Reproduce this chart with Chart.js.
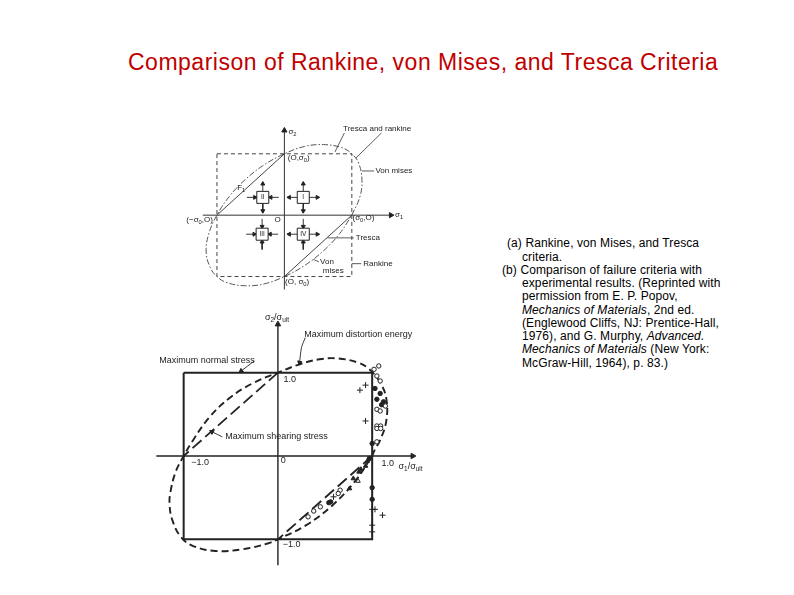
<!DOCTYPE html>
<html>
<head>
<meta charset="utf-8">
<script src="https://cdn.jsdelivr.net/npm/chart.js@4.4.1/dist/chart.umd.min.js"></script>
<style>
  body { margin: 0; background: #fff; }
  #page { position: relative; width: 794px; height: 595px; overflow: hidden;
          font-family: "Liberation Sans", Arial, sans-serif; }
  #title { position: absolute; left: 128px; top: 51px; color: #c00000; font-size: 23px;
           line-height: 23px; letter-spacing: 0.5px; white-space: nowrap; }
  canvas { position: absolute; }
  #caption div { position: absolute; white-space: nowrap; font-size: 12px; line-height: 14px;
                 letter-spacing: 0.1px; color: #000; }
</style>
</head>
<body>
<div id="page">
  <div id="title">Comparison of Rankine, von Mises, and Tresca Criteria</div>
  <canvas id="chartA" width="300" height="195" style="left:140px;top:110px"></canvas>
  <canvas id="chartB" width="300" height="275" style="left:140px;top:305px"></canvas>
  <div id="caption">
    <div style="left:507px;top:236px">(a) Rankine, von Mises, and Tresca</div>
    <div style="left:522px;top:249.5px">criteria.</div>
    <div style="left:502px;top:263px">(b) Comparison of failure criteria with</div>
    <div style="left:522px;top:276px">experimental results. (Reprinted with</div>
    <div style="left:522px;top:289px">permission from E. P. Popov,</div>
    <div style="left:522px;top:302.5px"><i>Mechanics of Materials</i>, 2nd ed.</div>
    <div style="left:522px;top:316px">(Englewood Cliffs, NJ: Prentice-Hall,</div>
    <div style="left:522px;top:329px">1976), and G. Murphy, <i>Advanced.</i></div>
    <div style="left:522px;top:342px"><i>Mechanics of Materials</i> (New York:</div>
    <div style="left:522px;top:355.5px">McGraw-Hill, 1964), p. 83.)</div>
  </div>
</div>
<script>
// stresses are in units of the yield / ultimate stress (sigma0 in a, sigma_ult in b)

// Rankine (max normal stress) square
const rankineX = [-1, 1, 1, -1, -1];
const rankineY = [1, 1, -1, -1, 1];
// Tresca (max shearing stress) diagonal edges
const trescaX = [0, -1, null, 1, 0];
const trescaY = [1, 0, null, 0, -1];

// von Mises ellipse, panel (a)
const aMisesX = [1.00, 1.12, 1.15, 1.10, 1.00, 0.85, 0.58, 0.30, 0.00, -0.30, -0.58, -0.82, -1.00,
                 -1.12, -1.16, -1.10, -1.00, -0.85, -0.58, -0.30, 0.00, 0.30, 0.58, 0.82, 1.00];
const aMisesY = [0.00, 0.30, 0.58, 0.85, 1.00, 1.10, 1.15, 1.12, 1.00, 0.82, 0.58, 0.30, 0.00,
                 -0.30, -0.60, -0.85, -1.00, -1.10, -1.15, -1.12, -1.00, -0.82, -0.58, -0.30, 0.00];
// max distortion energy ellipse, panel (b)
const bMisesX = [1.00, 1.03, 1.085, 1.15, 1.15, 1.085, 0.97, 0.85, 0.64, 0.44, 0.23, 0.00, -0.28, -0.52,
                 -0.73, -0.90, -1.00, -1.085, -1.14, -1.15, -1.12, -1.03, -0.90, -0.66, -0.38, -0.11,
                 0.00, 0.30, 0.58, 0.82, 1.00];
const bMisesY = [0.00, 0.08, 0.19, 0.42, 0.69, 0.88, 1.04, 1.12, 1.17, 1.16, 1.10, 1.00, 0.865, 0.69,
                 0.46, 0.19, 0.00, -0.19, -0.43, -0.58, -0.77, -0.97, -1.08, -1.14, -1.12, -1.05,
                 -1.00, -0.83, -0.59, -0.30, 0.00];

// axes
const aAxisX = [-1.21, 1.58, null, 0, 0];
const aAxisY = [0, 0, null, -1.21, 1.38];
const bAxisX = [-1.29, 1.43, null, 0, 0];
const bAxisY = [0, 0, null, -1.31, 1.58];

// stress elements in panel (a)
const elemLabels = ['I', 'II', 'III', 'IV'];
const elemX = [0.28, -0.32, -0.33, 0.28];
const elemY = [0.29, 0.29, -0.31, -0.31];
const elemTensionX = [true, false, false, true];
const elemTensionY = [true, true, false, false];

// experimental results, panel (b)
const openCircleX = [1.02, 1.07, 1.05, 1.085, 1.05, 1.085, 1.14, 1.05, 1.09, 1.05, 1.09, 1.05, 0.66, 0.64, 0.45, 0.38, 0.32];
const openCircleY = [1.04, 1.08, 0.96, 0.90, 0.56, 0.54, 0.60, 0.36, 0.36, 0.33, 0.33, 0.17, -0.41, -0.45, -0.61, -0.66, -0.73];
const dotX = [1.03, 1.085, 1.12, 1.10, 1.05, 1.00, 0.54, 0.56, 1.00, 1.00, 0.97];
const dotY = [0.81, 0.75, 0.65, 0.615, 0.68, 0.15, -0.56, -0.55, -0.38, -0.52, -0.03];
const triX = [0.95, 0.93, 0.88, 0.86, 0.80, 0.76];
const triY = [-0.06, -0.12, -0.16, -0.19, -0.27, -0.39];
const openTriX = [0.85];
const openTriY = [-0.30];
const plusX = [0.87, 0.93, 0.93, 1.00, 1.03, 1.11, 1.00, 1.00, 0.59];
const plusY = [0.79, 0.85, 0.42, -0.64, -0.64, -0.71, -0.83, -0.91, -0.49];

// leader lines and their arrow tips
const aLeadX = [0.89, 0.75, null, 1.44, 1.06, null, 1.33, 1.15, null, 0.64, 1.03, null, 1.00, 1.14, null, 0.43, 0.51];
const aLeadY = [1.34, 1.03, null, 1.34, 0.93, null, 0.72, 0.72, null, -0.37, -0.37, null, -0.79, -0.79, null, -0.72, -0.76];
const bLeadX = [-0.25, -0.39, null, 0.29, 0.25, 0.23, null, -0.59, -0.70];
const bLeadY = [1.14, 1.02, null, 1.42, 1.30, 1.12, null, 0.23, 0.29];
const bTipX = [-0.39, 0.23, -0.70];
const bTipY = [1.02, 1.12, 0.29];
const bTipRot = [234, 194, 301];

const FONT = '"Liberation Sans", Arial, sans-serif';
const INK = '#222';

function pts(xs, ys) {
  return xs.map((x, i) => ({ x: x, y: ys[i] }));
}

// texts placed at data coordinates; parts: [text, 's' subscript | 'i' italic]
function textLayer(items, size) {
  return {
    id: 'textLayer',
    afterDatasetsDraw(chart) {
      const ctx = chart.ctx;
      const sx = chart.scales.x, sy = chart.scales.y;
      ctx.save();
      ctx.fillStyle = INK;
      ctx.textBaseline = 'middle';
      items.forEach(it => {
        const parts = Array.isArray(it.t) ? it.t : [[it.t]];
        const fs = it.size || size;
        const fontOf = k => (k === 'i' ? 'italic ' : '') + (k === 's' ? fs * 0.72 : fs) + 'px ' + FONT;
        let w = 0;
        parts.forEach(p => { ctx.font = fontOf(p[1]); w += ctx.measureText(p[0]).width; });
        let px = sx.getPixelForValue(it.x), py = sy.getPixelForValue(it.y);
        if (it.align === 'center') px -= w / 2;
        else if (it.align === 'right') px -= w;
        ctx.save();
        ctx.translate(px, py);
        if (it.rot) ctx.rotate(it.rot * Math.PI / 180);
        let cx = 0;
        parts.forEach(p => {
          ctx.font = fontOf(p[1]);
          ctx.fillText(p[0], cx, p[1] === 's' ? fs * 0.32 : 0);
          cx += ctx.measureText(p[0]).width;
        });
        ctx.restore();
      });
      ctx.restore();
    }
  };
}

function lineSet(xs, ys, color, width, dash, tension) {
  return {
    data: pts(xs, ys), borderColor: color, borderWidth: width, borderDash: dash || [],
    pointRadius: 0, tension: tension || 0, fill: false
  };
}

function markerSet(xs, ys, style, radius, fillColor, rot) {
  return {
    data: pts(xs, ys), showLine: false, pointStyle: style, pointRadius: radius,
    pointBackgroundColor: fillColor, pointBorderColor: INK, pointBorderWidth: 1,
    pointRotation: rot || 0
  };
}

function baseOptions(frame) {
  return {
    responsive: false, animation: false, devicePixelRatio: 1, events: [],
    layout: { padding: 0 },
    plugins: { legend: { display: false }, tooltip: { enabled: false } },
    scales: {
      x: { type: 'linear', display: false,
           min: (0 - frame.cx) / frame.ux, max: (frame.w - frame.cx) / frame.ux },
      y: { type: 'linear', display: false,
           min: (frame.cy - frame.h) / frame.uy, max: frame.cy / frame.uy }
    }
  };
}

// ---------- panel (a) ----------
const frameA = { w: 300, h: 195, cx: 144, cy: 106, ux: 72, uy: 68 };
const dx = 1 / frameA.ux, dy = 1 / frameA.uy;
const shaftX = [], shaftY = [], headX = [], headY = [], headRot = [];
elemX.forEach((cx, i) => {
  const cy = elemY[i];
  const inn = 6.5, out = 17;
  [1, -1].forEach(s => {
    shaftX.push(cx + s * inn * dx, cx + s * out * dx, null);
    shaftY.push(cy, cy, null);
    const tens = elemTensionX[i];
    headX.push(cx + s * (tens ? out - 2 : inn + 2) * dx);
    headY.push(cy);
    headRot.push((s > 0) === tens ? 90 : 270);
  });
  [1, -1].forEach(s => {
    shaftX.push(cx, cx, null);
    shaftY.push(cy + s * inn * dy, cy + s * out * dy, null);
    const tens = elemTensionY[i];
    headX.push(cx);
    headY.push(cy + s * (tens ? out - 2 : inn + 2) * dy);
    headRot.push((s > 0) === tens ? 0 : 180);
  });
});

const sig0 = (pre, post) => [[pre], ['0', 's'], [post]];
const textsA = [
  { x: 0.06, y: 1.36, t: [['σ'], ['2', 's']] },
  { x: 1.64, y: 0.0, t: [['σ'], ['1', 's']] },
  { x: -0.10, y: -0.08, t: 'O', align: 'center' },
  { x: 0.05, y: 0.94, t: sig0('(O,σ', ')') },
  { x: -1.06, y: -0.08, t: sig0('(−σ', ',O)'), align: 'right' },
  { x: 1.01, y: -0.05, t: sig0('(σ', ',O)') },
  { x: 0.01, y: -1.08, t: sig0('(O, σ', ')') },
  { x: 0.87, y: 1.41, t: 'Tresca and rankine' },
  { x: 1.35, y: 0.72, t: 'Von mises' },
  { x: 1.06, y: -0.37, t: 'Tresca' },
  { x: 1.17, y: -0.79, t: 'Rankine' },
  { x: 0.53, y: -0.76, t: 'Von' },
  { x: 0.57, y: -0.90, t: 'mises' },
  { x: -0.70, y: 0.44, t: [['F'], ['1', 's']] }
].concat(elemLabels.map((l, i) => ({ x: elemX[i], y: elemY[i], t: l, align: 'center', size: 6.5 })));

new Chart(document.getElementById('chartA'), {
  type: 'line',
  data: {
    datasets: [
      markerSet(elemX, elemY, 'rect', 8.5, '#fff'),
      markerSet(headX, headY, 'triangle', 2.3, INK, headRot),
      lineSet(shaftX, shaftY, INK, 0.9),
      lineSet(aLeadX, aLeadY, '#333', 0.8),
      markerSet([1.58, 0], [0, 1.38], 'triangle', 3, INK, [90, 0]),
      lineSet(aAxisX, aAxisY, '#333', 1),
      lineSet(trescaX, trescaY, '#444', 1),
      lineSet(aMisesX, aMisesY, '#555', 1, [6, 2, 1.5, 2], 0.4),
      lineSet(rankineX, rankineY, '#444', 1, [4, 3])
    ]
  },
  options: baseOptions(frameA),
  plugins: [textLayer(textsA, 8)]
});

// ---------- panel (b) ----------
const frameB = { w: 300, h: 275, cx: 137.5, cy: 151.5, ux: 97.5, uy: 86.5 };
const textsB = [
  { x: -0.01, y: 1.66, t: [['σ'], ['2', 's'], ['/σ'], ['ult', 's']], align: 'center' },
  { x: 1.28, y: -0.13, t: [['σ'], ['1', 's'], ['/σ'], ['ult', 's']] },
  { x: 1.10, y: -0.09, t: '1.0' },
  { x: -0.92, y: -0.08, t: '−1.0' },
  { x: 0.03, y: -0.06, t: '0' },
  { x: 0.06, y: 0.92, t: '1.0' },
  { x: 0.05, y: -1.06, t: '−1.0' },
  { x: -1.26, y: 1.15, t: 'Maximum normal stress' },
  { x: 0.28, y: 1.46, t: 'Maximum distortion energy' },
  { x: -0.56, y: 0.23, t: 'Maximum shearing stress' }
];

new Chart(document.getElementById('chartB'), {
  type: 'line',
  data: {
    datasets: [
      markerSet(openCircleX, openCircleY, 'circle', 2.2, '#fff'),
      markerSet(dotX, dotY, 'circle', 2.2, INK),
      markerSet(triX, triY, 'triangle', 2.6, INK),
      markerSet(openTriX, openTriY, 'triangle', 2.6, '#fff'),
      markerSet(plusX, plusY, 'cross', 3, INK),
      markerSet(bTipX, bTipY, 'triangle', 2.6, INK, bTipRot),
      lineSet(bLeadX, bLeadY, INK, 0.9, [], 0.3),
      markerSet([1.43, 0], [0, 1.58], 'triangle', 3.2, INK, [90, 0]),
      lineSet(bAxisX, bAxisY, INK, 1.4),
      lineSet(bMisesX, bMisesY, INK, 1.9, [7, 4], 0.4),
      lineSet(trescaX, trescaY, INK, 1.8, [12, 5]),
      lineSet(rankineX, rankineY, INK, 2)
    ]
  },
  options: baseOptions(frameB),
  plugins: [textLayer(textsB, 9)]
});
</script>
</body>
</html>
